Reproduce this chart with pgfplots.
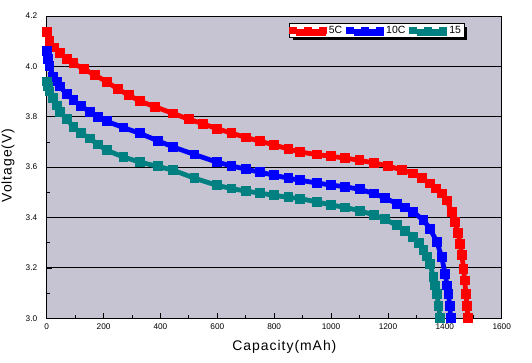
\documentclass[border=0pt]{standalone}
\usepackage{pgfplots}
\pgfplotsset{compat=1.18}
\usepackage{fontspec}
\setmainfont{Liberation Sans}
\usetikzlibrary{shadows}
\definecolor{bgc}{RGB}{198,196,210}
\definecolor{tealc}{RGB}{0,128,128}
\begin{document}
\begin{tikzpicture}
\path[use as bounding box, fill=white] (-46.7bp,-44.7bp) rectangle (485.3bp,318.3bp);
\begin{axis}[
  scale only axis, width=455bp, height=302.3bp,
  anchor=south west, at={(0,0)},
  xmin=0, xmax=1600, ymin=3.0, ymax=4.2,
  xtick={0,200,...,1600}, ytick={3.0,3.2,...,4.2},
  minor x tick num=1, minor y tick num=1,
  tick align=inside, tick pos=left,
  major tick length=5bp, minor tick length=3.5bp,
  ymajorgrids, major grid style={black, line width=0.9pt},
  axis line style={black, line width=0.9pt},
  every tick/.style={black, line width=0.8pt},
  axis background/.style={fill=bgc},
  /pgf/number format/assume math mode=true,
  xticklabel style={/pgf/number format/1000 sep={}, font=\fontsize{8.3}{9}\selectfont, yshift=-2bp},
  yticklabel style={/pgf/number format/.cd, fixed, fixed zerofill, precision=1, /tikz/.cd, font=\fontsize{8.3}{9}\selectfont, xshift=-6bp},
  xlabel={Capacity(mAh)}, ylabel={Voltage(V)},
  xlabel style={at={(axis description cs:0.5225,-0.095)}, anchor=center, font=\fontsize{14}{16}\selectfont\addfontfeatures{LetterSpace=7}},
  ylabel style={at={(axis description cs:-0.085,0.5055)}, anchor=center, font=\fontsize{14}{16}\selectfont\addfontfeatures{LetterSpace=7}},
  legend columns=3,
  legend style={at={(axis description cs:0.918,0.976)}, anchor=north east,
    draw=black, line width=0.8pt, fill=white, font=\fontsize{10.5}{12}\selectfont,
    inner xsep=1pt, inner ysep=0.5pt, row sep=0pt,
    drop shadow={shadow xshift=3.5bp, shadow yshift=-3bp, opacity=1, fill=black},
    /tikz/every odd column/.append style={column sep=1.5bp},
    /tikz/every even column/.append style={column sep=3.5bp}},
  legend image code/.code={\draw[#1, line width=2.8bp, mark size=2.5bp] plot coordinates {(0bp,0bp)(15bp,0bp)(30bp,0bp)};},
  every axis plot/.append style={line width=4.8bp, mark=square*, mark size=2.5bp},
]
\addplot[red, mark options={red}] coordinates {(0,4.135)(10,4.10)(25,4.075)(47,4.052)(70,4.03)(94,4.012)(130,3.99)(170,3.965)(211,3.939)(250,3.91)(290,3.885)(328,3.862)(380,3.84)(445,3.813)(500,3.79)(550,3.772)(598,3.753)(650,3.735)(700,3.718)(750,3.703)(800,3.688)(850,3.672)(891,3.66)(950,3.65)(1000,3.643)(1050,3.636)(1100,3.627)(1150,3.617)(1200,3.605)(1250,3.588)(1289,3.575)(1320,3.556)(1348,3.535)(1370,3.515)(1389,3.495)(1407,3.468)(1425,3.422)(1436,3.382)(1446,3.34)(1454,3.296)(1460,3.25)(1466,3.197)(1470,3.15)(1474,3.097)(1478,3.05)(1482,3.0)};
\addlegendentry{5C}
\addplot[blue, mark options={blue}] coordinates {(0,4.06)(5,4.03)(10,4.0)(23,3.96)(35,3.94)(47,3.92)(70,3.89)(94,3.866)(120,3.843)(152,3.82)(180,3.80)(211,3.782)(270,3.757)(328,3.734)(390,3.705)(445,3.68)(520,3.65)(598,3.62)(650,3.605)(700,3.592)(750,3.58)(800,3.568)(850,3.556)(891,3.548)(950,3.537)(1000,3.529)(1050,3.522)(1102,3.512)(1150,3.495)(1190,3.478)(1231,3.455)(1260,3.44)(1289,3.422)(1325,3.389)(1348,3.356)(1372,3.303)(1389,3.243)(1401,3.177)(1408,3.13)(1413,3.097)(1417,3.05)(1421,3.0)};
\addlegendentry{10C}
\addplot[tealc, mark options={tealc}] coordinates {(0,3.94)(5,3.92)(10,3.90)(23,3.873)(35,3.845)(47,3.82)(70,3.79)(94,3.76)(120,3.735)(152,3.714)(180,3.69)(211,3.667)(270,3.64)(328,3.62)(390,3.603)(445,3.588)(520,3.556)(598,3.528)(650,3.515)(700,3.505)(750,3.497)(800,3.488)(850,3.48)(891,3.475)(950,3.462)(1000,3.45)(1050,3.44)(1102,3.427)(1150,3.41)(1190,3.393)(1231,3.369)(1260,3.348)(1289,3.322)(1310,3.30)(1325,3.27)(1338,3.245)(1348,3.217)(1360,3.163)(1366,3.13)(1372,3.097)(1378,3.05)(1383,3.0)};
\addlegendentry{15}
\end{axis}
\end{tikzpicture}
\end{document}
